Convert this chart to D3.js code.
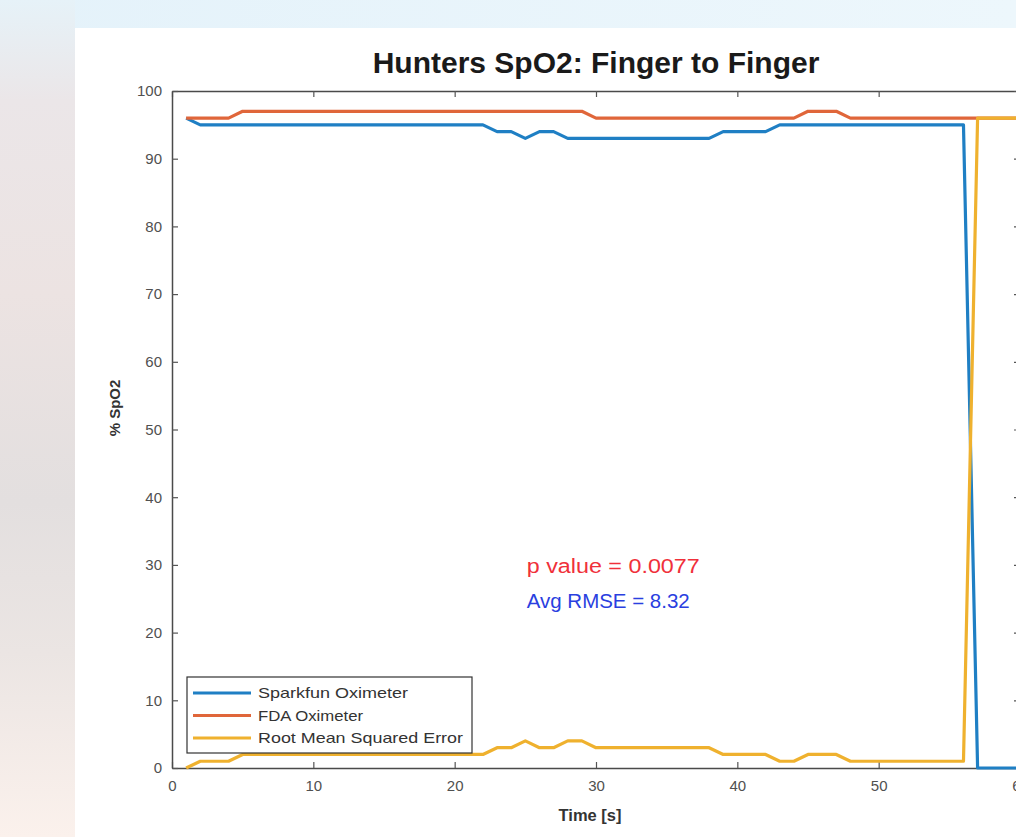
<!DOCTYPE html>
<html>
<head>
<meta charset="utf-8">
<script src="https://cdn.jsdelivr.net/npm/d3@7"></script>
<style>
  body { margin: 0; background: #fff; }
  svg { display: block; font-family: "Liberation Sans", Arial, Helvetica, sans-serif; }
</style>
</head>
<body>
<div id="chart"></div>
<script>
// time in seconds
var time = [1,2,3,4,5,6,7,8,9,10,11,12,13,14,15,16,17,18,19,20,
            21,22,23,24,25,26,27,28,29,30,31,32,33,34,35,36,37,38,39,40,
            41,42,43,44,45,46,47,48,49,50,51,52,53,54,55,56,57,58,59,60];

// Sparkfun oximeter readings
var sparkfun = [96,95,95,95,95,95,95,95,95,95,95,95,95,95,95,95,95,95,95,95,
                95,95,94,94,93,94,94,93,93,93,93,93,93,93,93,93,93,93,94,94,
                94,94,95,95,95,95,95,95,95,95,95,95,95,95,95,95,0,0,0,0];

// FDA oximeter readings
var fda = [96,96,96,96,97,97,97,97,97,97,97,97,97,97,97,97,97,97,97,97,
           97,97,97,97,97,97,97,97,97,96,96,96,96,96,96,96,96,96,96,96,
           96,96,96,96,97,97,97,96,96,96,96,96,96,96,96,96,96,96,96,96];

// root mean squared error
var rmse = [0,1,1,1,2,2,2,2,2,2,2,2,2,2,2,2,2,2,2,2,
            2,2,3,3,4,3,3,4,4,3,3,3,3,3,3,3,3,3,2,2,
            2,2,1,1,2,2,2,1,1,1,1,1,1,1,1,1,96,96,96,96];

var xTicks = [0,10,20,30,40,50,60];
var yTicks = [0,10,20,30,40,50,60,70,80,90,100];

var seriesNames = ["Sparkfun Oximeter", "FDA Oximeter", "Root Mean Squared Error"];
var seriesColors = ["#1f7fc4", "#e0663a", "#efb12e"];

var svgWidth = 1016;
var svgHeight = 837;

var svg = d3.select("#chart")
    .append("svg")
    .attr("width", svgWidth)
    .attr("height", svgHeight);

// blurry photo background around the figure
var defs = svg.append("defs");
var topGrad = defs.append("linearGradient").attr("id", "topGrad")
    .attr("x1", 0).attr("x2", 1).attr("y1", 0).attr("y2", 0);
topGrad.append("stop").attr("offset", "0%").attr("stop-color", "#e4f2fa");
topGrad.append("stop").attr("offset", "100%").attr("stop-color", "#edf7fc");
var leftGrad = defs.append("linearGradient").attr("id", "leftGrad")
    .attr("x1", 0).attr("x2", 0).attr("y1", 0).attr("y2", 1);
leftGrad.append("stop").attr("offset", "0%").attr("stop-color", "#e6f2f8");
leftGrad.append("stop").attr("offset", "12%").attr("stop-color", "#ebe6e8");
leftGrad.append("stop").attr("offset", "35%").attr("stop-color", "#ece3e2");
leftGrad.append("stop").attr("offset", "60%").attr("stop-color", "#e3dfdf");
leftGrad.append("stop").attr("offset", "78%").attr("stop-color", "#ebe5e3");
leftGrad.append("stop").attr("offset", "100%").attr("stop-color", "#fbf1ec");

svg.append("rect").attr("x", 0).attr("y", 0)
    .attr("width", svgWidth).attr("height", 28).attr("fill", "url(#topGrad)");
svg.append("rect").attr("x", 0).attr("y", 0)
    .attr("width", 75).attr("height", svgHeight).attr("fill", "url(#leftGrad)");

// axes area
var plot = { left: 172, right: 1020, top: 91, bottom: 768 };

var xScale = d3.scaleLinear().domain([0, 60]).range([plot.left, plot.right]);
var yScale = d3.scaleLinear().domain([0, 100]).range([plot.bottom, plot.top]);

var axisColor = "#4a4a4a";
var tickColor = "#555";

// all four sides, ticks pointing inward
var bottomAxis = d3.axisBottom(xScale).tickValues(xTicks).tickSizeInner(-6).tickSizeOuter(0).tickPadding(12);
var topAxis = d3.axisTop(xScale).tickValues(xTicks).tickSizeInner(-6).tickSizeOuter(0).tickFormat("");
var leftAxis = d3.axisLeft(yScale).tickValues(yTicks).tickSizeInner(-6).tickSizeOuter(0).tickPadding(10);
var rightAxis = d3.axisRight(yScale).tickValues(yTicks).tickSizeInner(-6).tickSizeOuter(0).tickFormat("");

function styleAxis(g) {
    g.select(".domain").attr("stroke", axisColor).attr("stroke-width", 1.5);
    g.selectAll(".tick line").attr("stroke", tickColor).attr("stroke-width", 1.2);
    g.selectAll(".tick text").attr("fill", "#505050").style("font-size", "15px");
}

svg.append("g").attr("transform", `translate(0, ${plot.bottom})`).call(bottomAxis).call(styleAxis);
svg.append("g").attr("transform", `translate(0, ${plot.top})`).call(topAxis).call(styleAxis);
svg.append("g").attr("transform", `translate(${plot.left}, 0)`).call(leftAxis).call(styleAxis);
svg.append("g").attr("transform", `translate(${plot.right}, 0)`).call(rightAxis).call(styleAxis);

// lines
var allSeries = [sparkfun, fda, rmse];
var line = d3.line()
    .x(function(d, i) { return xScale(time[i]); })
    .y(function(d) { return yScale(d); });

svg.append("g").selectAll("path")
    .data(allSeries)
    .enter()
    .append("path")
    .attr("d", function(d) { return line(d); })
    .attr("fill", "none")
    .attr("stroke", function(d, i) { return seriesColors[i]; })
    .attr("stroke-width", 3.2)
    .attr("stroke-linejoin", "round");

// title
svg.append("text")
    .attr("x", xScale(30))
    .attr("y", 73)
    .attr("text-anchor", "middle")
    .attr("font-weight", "bold")
    .style("font-size", "30px")
    .attr("fill", "#1a1a1a")
    .text("Hunters SpO2: Finger to Finger");

// axis labels
svg.append("text")
    .attr("x", xScale(30) - 6)
    .attr("y", 821)
    .attr("text-anchor", "middle")
    .attr("font-weight", "bold")
    .style("font-size", "16.5px")
    .attr("fill", "#333")
    .text("Time [s]");

svg.append("text")
    .attr("transform", "translate(120, 408) rotate(-90)")
    .attr("text-anchor", "middle")
    .attr("font-weight", "bold")
    .style("font-size", "15px")
    .attr("fill", "#333")
    .text("% SpO2");

// annotations
svg.append("text")
    .attr("x", xScale(25.1))
    .attr("y", yScale(28.8))
    .attr("textLength", 173)
    .attr("lengthAdjust", "spacingAndGlyphs")
    .style("font-size", "20px")
    .attr("fill", "#f0303a")
    .text("p value = 0.0077");

svg.append("text")
    .attr("x", xScale(25.1))
    .attr("y", yScale(23.6))
    .attr("textLength", 163)
    .attr("lengthAdjust", "spacingAndGlyphs")
    .style("font-size", "20px")
    .attr("fill", "#2a3fe0")
    .text("Avg RMSE = 8.32");

// legend
var legend = svg.append("g").attr("transform", "translate(187, 677)");
legend.append("rect")
    .attr("width", 285).attr("height", 76)
    .attr("fill", "#fff")
    .attr("stroke", "#333").attr("stroke-width", 1.2);

var legendWidths = [150, 105, 205];

var rows = legend.selectAll("g.row")
    .data(seriesNames)
    .enter()
    .append("g")
    .attr("class", "row")
    .attr("transform", function(d, i) { return `translate(0, ${16 + i * 22.5})`; });

rows.append("line")
    .attr("x1", 6).attr("x2", 64)
    .attr("stroke", function(d, i) { return seriesColors[i]; })
    .attr("stroke-width", 3);

rows.append("text")
    .attr("x", 71)
    .attr("dy", "0.35em")
    .attr("textLength", function(d, i) { return legendWidths[i]; })
    .attr("lengthAdjust", "spacingAndGlyphs")
    .style("font-size", "14.5px")
    .attr("fill", "#333")
    .text(function(d) { return d; });
</script>
</body>
</html>
